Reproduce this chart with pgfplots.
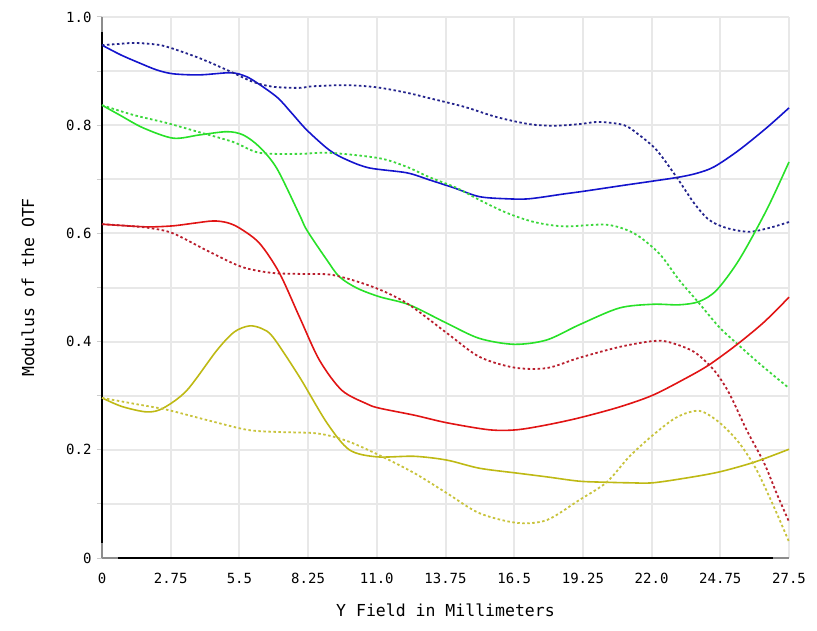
\documentclass[border=0pt]{standalone}
\usepackage{fontspec}
\setmonofont{DejaVu Sans Mono}
\usepackage{pgfplots}
\pgfplotsset{compat=1.18}
\definecolor{blueS}{RGB}{20,20,205}
\definecolor{blueD}{RGB}{35,35,140}
\definecolor{greenS}{RGB}{40,225,40}
\definecolor{greenD}{RGB}{60,215,60}
\definecolor{redS}{RGB}{225,20,20}
\definecolor{redD}{RGB}{185,30,45}
\definecolor{yelS}{RGB}{190,185,20}
\definecolor{yelD}{RGB}{200,195,60}
\definecolor{gridc}{RGB}{232,232,232}
\definecolor{endc}{RGB}{140,140,140}
\begin{document}
\begin{tikzpicture}
\useasboundingbox (-102pt,-72pt) rectangle (715pt,558pt);
\begin{axis}[
  at={(0,0)}, anchor=south west,
  scale only axis, width=687pt, height=541pt,
  xmin=0, xmax=27.5, ymin=0, ymax=1,
  clip=false,
  axis x line*=bottom, axis y line*=left,
  axis line style={black, line width=2.5pt, -},
  xtick={0,2.75,5.5,8.25,11,13.75,16.5,19.25,22,24.75,27.5},
  xticklabels={0,2.75,5.5,8.25,11.0,13.75,16.5,19.25,22.0,24.75,27.5},
  ytick={0,0.1,0.2,0.3,0.4,0.5,0.6,0.7,0.8,0.9,1.0},
  yticklabels={0,,0.2,,0.4,,0.6,,0.8,,1.0},
  grid=major,
  grid style={draw=gridc, line width=2pt},
  tick align=outside,
  major tick length=5pt,
  xtick style={draw=none},
  ytick style={draw=gray!40, line width=1pt},
  ticklabel style={font=\fontsize{14}{16}\selectfont\ttfamily},
  xticklabel style={yshift=-7pt},
  yticklabel style={xshift=-2pt},
  label style={font=\fontsize{16.5}{18}\selectfont\ttfamily},
  xlabel={Y Field in Millimeters},
  ylabel={Modulus of the OTF},
  xlabel style={at={(axis description cs:0.5,-0.0961)}, anchor=center},
  ylabel style={at={(axis description cs:-0.1077,0.5)}, anchor=center},
]
% blue solid
\addplot[blueS, line width=1.6pt, smooth] coordinates {
(0,0.948) (0.75,0.93) (1.5,0.915) (2.2,0.902) (2.85,0.895) (3.9,0.893) (5.1,0.897) (5.6,0.893) (6.05,0.883) (7.0,0.852) (7.6,0.822) (8.2,0.791) (9.1,0.754) (9.8,0.736) (10.7,0.721) (12.2,0.712) (13.1,0.699) (14.1,0.684) (15.1,0.668) (16.2,0.664) (17.1,0.664) (18.5,0.673) (19.3,0.678) (20.9,0.689) (22.1,0.697) (23.1,0.704) (23.8,0.711) (24.5,0.723) (25.5,0.754) (26.6,0.795) (27.5,0.832)};
% blue dotted
\addplot[blueD, line width=1.8pt, dash pattern=on 2.5pt off 2.5pt, smooth] coordinates {
(0,0.948) (0.6,0.95) (1.25,0.952) (2.0,0.950) (2.6,0.945) (3.9,0.924) (5.1,0.9) (6.05,0.880) (6.85,0.871) (7.9,0.869) (8.45,0.872) (9.8,0.874) (11,0.870) (12.2,0.86) (13.1,0.85) (14.5,0.834) (15.8,0.815) (17.1,0.802) (18.1,0.799) (19.1,0.802) (19.9,0.806) (20.9,0.8) (21.5,0.782) (22.2,0.754) (23,0.704) (23.7,0.656) (24.3,0.625) (25,0.61) (25.9,0.603) (26.7,0.61) (27.5,0.621)};
% green solid
\addplot[greenS, line width=1.6pt, smooth] coordinates {
(0,0.837) (0.7,0.819) (1.65,0.795) (2.85,0.776) (3.9,0.782) (5.0,0.788) (5.65,0.782) (6.3,0.76) (7.0,0.72) (7.9,0.635) (8.2,0.606) (9.0,0.551) (9.5,0.52) (10.2,0.499) (11.1,0.483) (12.3,0.468) (13.8,0.434) (15.1,0.406) (16.5,0.395) (17.8,0.403) (19.1,0.431) (20.7,0.462) (22.05,0.469) (23.1,0.468) (23.9,0.474) (24.6,0.495) (25.5,0.551) (26.6,0.643) (27.5,0.732)};
% green dotted
\addplot[greenD, line width=1.8pt, dash pattern=on 2.5pt off 2.5pt, smooth] coordinates {
(0,0.837) (1.25,0.819) (2.6,0.804) (3.9,0.787) (5.25,0.769) (6.3,0.749) (7.9,0.747) (9.1,0.749) (11.1,0.739) (12.2,0.723) (13.1,0.704) (14.2,0.684) (15.1,0.662) (16.2,0.638) (17.3,0.621) (18.5,0.613) (20.2,0.616) (21.3,0.6) (22.3,0.563) (23.1,0.514) (23.9,0.471) (24.7,0.427) (25.4,0.397) (26.3,0.36) (27.5,0.314)};
% red solid
\addplot[redS, line width=1.6pt, smooth] coordinates {
(0,0.617) (1.0,0.614) (1.9,0.612) (2.85,0.614) (3.7,0.619) (4.45,0.623) (5.0,0.62) (5.5,0.61) (6.3,0.582) (7.1,0.527) (7.9,0.446) (8.7,0.366) (9.6,0.31) (10.6,0.285) (11.1,0.277) (12.5,0.264) (13.8,0.25) (15.5,0.237) (16.6,0.237) (17.8,0.246) (19.1,0.259) (20.7,0.279) (22.05,0.301) (23.4,0.333) (24.3,0.357) (25.4,0.394) (26.5,0.436) (27.5,0.482)};
% red dotted
\addplot[redD, line width=1.8pt, dash pattern=on 2.5pt off 2.5pt, smooth] coordinates {
(0,0.617) (1.0,0.614) (1.9,0.61) (2.85,0.6) (4.3,0.566) (5.6,0.538) (6.8,0.527) (8.0,0.525) (9.25,0.523) (10.85,0.501) (12.2,0.471) (13.8,0.416) (15.1,0.372) (16.5,0.352) (17.8,0.351) (19.1,0.37) (20.7,0.39) (22.05,0.401) (22.7,0.399) (23.7,0.381) (24.5,0.347) (25.1,0.305) (25.8,0.237) (26.5,0.176) (27.0,0.12) (27.5,0.067)};
% yellow solid
\addplot[yelS, line width=1.6pt, smooth] coordinates {
(0,0.296) (0.8,0.28) (1.8,0.27) (2.45,0.277) (3.4,0.31) (4.6,0.384) (5.3,0.418) (5.9,0.429) (6.4,0.424) (6.85,0.408) (7.9,0.335) (9.0,0.25) (9.9,0.2) (11.0,0.187) (12.5,0.188) (13.8,0.181) (15.1,0.166) (16.6,0.157) (17.8,0.15) (19.1,0.142) (20.2,0.14) (21.1,0.139) (22.05,0.139) (23.4,0.148) (24.7,0.159) (26.1,0.177) (27.5,0.201)};
% yellow dotted
\addplot[yelD, line width=1.8pt, dash pattern=on 2.5pt off 2.5pt, smooth] coordinates {
(0,0.296) (1.3,0.285) (2.6,0.274) (4.2,0.255) (5.8,0.237) (7.0,0.233) (8.45,0.231) (9.2,0.225) (10.0,0.213) (11.1,0.19) (12.5,0.157) (13.8,0.12) (15.1,0.083) (16.6,0.065) (17.8,0.07) (19.1,0.107) (20.2,0.14) (21.1,0.187) (22.05,0.227) (23.0,0.26) (23.9,0.272) (24.7,0.251) (25.5,0.213) (26.2,0.163) (26.9,0.094) (27.5,0.03)};
% grey ends of the axis lines
\draw[endc, line width=2.5pt] (axis cs:0,0) -- (axis cs:0.65,0);
\draw[endc, line width=2.5pt] (axis cs:26.85,0) -- (axis cs:27.5,0);
\draw[endc, line width=2.5pt] (axis cs:0,0) -- (axis cs:0,0.028);
\draw[endc, line width=2.5pt] (axis cs:0,0.972) -- (axis cs:0,1);
\end{axis}
\end{tikzpicture}
\end{document}
